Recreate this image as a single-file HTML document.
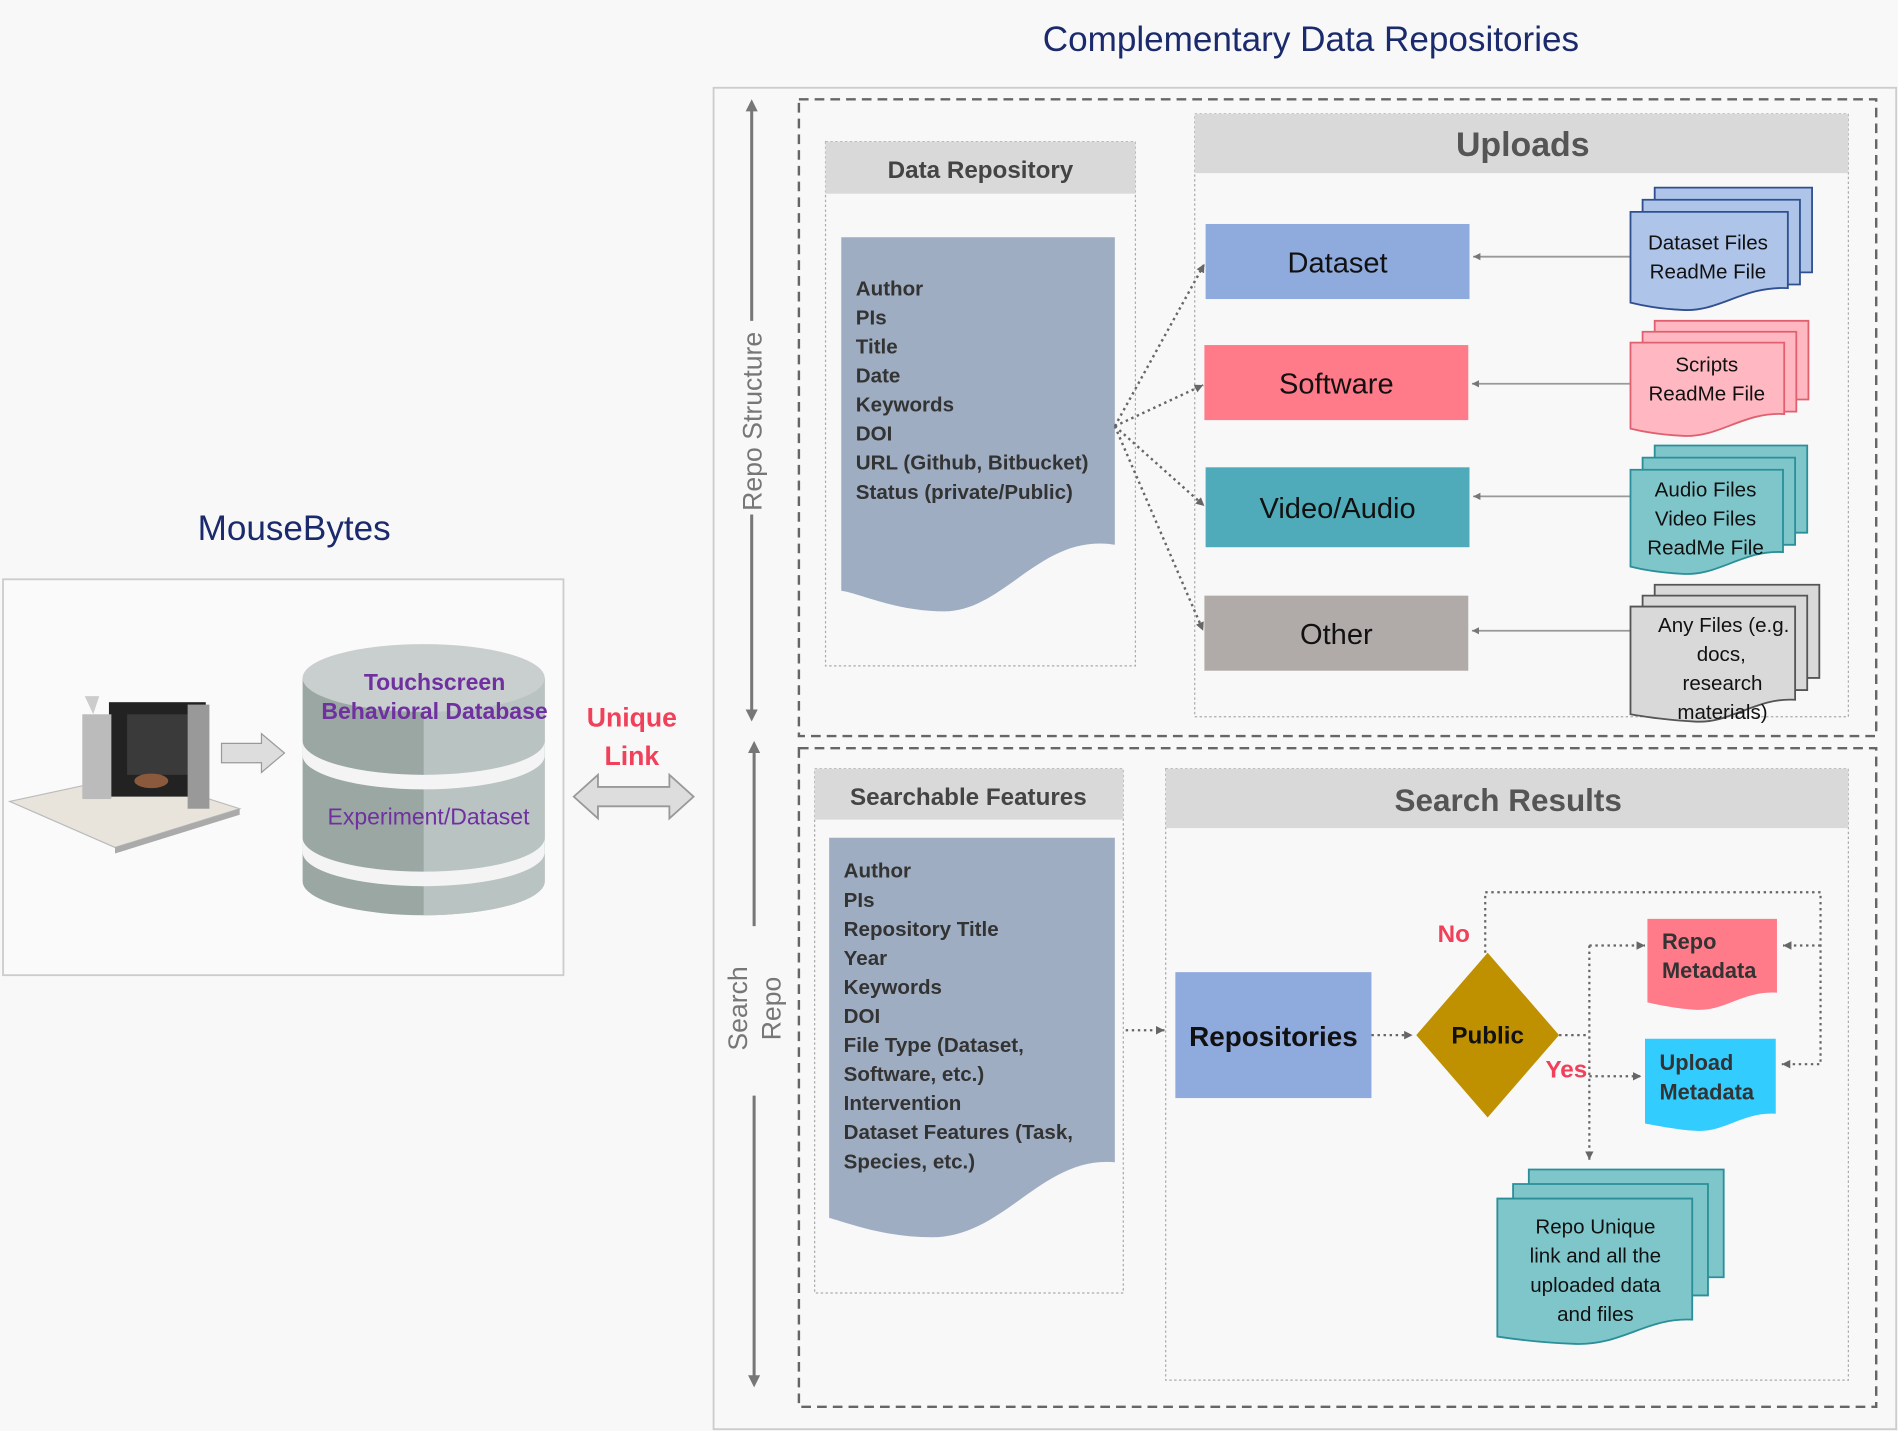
<!DOCTYPE html>
<html><head><meta charset="utf-8"><style>
html,body{margin:0;padding:0;background:#f8f8f8;}
svg{display:block;font-family:"Liberation Sans",sans-serif;}
</style></head><body>
<svg width="1898" height="1431" viewBox="0 0 1568 1182" preserveAspectRatio="none" xmlns="http://www.w3.org/2000/svg">
<defs>
<marker id="ag" markerUnits="userSpaceOnUse" markerWidth="10" markerHeight="10" refX="6" refY="3" orient="auto"><path d="M0,0 L6,3 L0,6 z" fill="#777"/></marker>
<marker id="ad" markerUnits="userSpaceOnUse" markerWidth="10" markerHeight="10" refX="7" refY="3.5" orient="auto"><path d="M0,0 L7,3.5 L0,7 z" fill="#666"/></marker>
</defs>
<rect width="1568" height="1182" fill="#f8f8f8"/>
<text x="1083" y="42" font-size="29" fill="#1a2a6c" text-anchor="middle">Complementary Data Repositories</text>
<rect x="589.5" y="72.5" width="977" height="1108" fill="none" stroke="#ccc" stroke-width="1.5"/>
<rect x="660" y="82" width="890" height="526" fill="none" stroke="#666" stroke-width="2" stroke-dasharray="8,5"/>
<rect x="660" y="618" width="890" height="544" fill="none" stroke="#666" stroke-width="2" stroke-dasharray="8,5"/>
<line x1="621" y1="90" x2="621" y2="265" stroke="#777" stroke-width="2.5"/>
<line x1="621" y1="425" x2="621" y2="588" stroke="#777" stroke-width="2.5"/>
<path d="M616,92 L621,82 L626,92z M616,586 L621,596 L626,586z" fill="#777"/>
<text transform="translate(629,348) rotate(-90)" font-size="22" fill="#777" text-anchor="middle">Repo Structure</text>
<line x1="623" y1="620" x2="623" y2="765" stroke="#777" stroke-width="2.5"/>
<line x1="623" y1="905" x2="623" y2="1138" stroke="#777" stroke-width="2.5"/>
<path d="M618,622 L623,612 L628,622z M618,1136 L623,1146 L628,1136z" fill="#777"/>
<text transform="translate(617,833) rotate(-90)" font-size="22" fill="#777" text-anchor="middle">Search</text>
<text transform="translate(645,833) rotate(-90)" font-size="22" fill="#777" text-anchor="middle">Repo</text>

<rect x="682" y="117" width="256" height="433" fill="none" stroke="#aaa" stroke-dasharray="2,2"/>
<rect x="682" y="117" width="256" height="43" fill="#d9d9d9"/>
<text x="810" y="147" font-size="20" font-weight="bold" fill="#444" text-anchor="middle">Data Repository</text>
<path d="M695,196 H921 V450 C860,440 830,505 780,505 C740,505 710,490 695,488 Z" fill="#9eadc2"/>
<g font-size="17" font-weight="bold" fill="#333">
<text x="707" y="244">Author</text><text x="707" y="268">PIs</text><text x="707" y="292">Title</text><text x="707" y="316">Date</text><text x="707" y="340">Keywords</text><text x="707" y="364">DOI</text><text x="707" y="388">URL (Github, Bitbucket)</text><text x="707" y="412">Status (private/Public)</text>
</g>

<rect x="987" y="94" width="540" height="498" fill="none" stroke="#aaa" stroke-dasharray="2,2"/>
<rect x="987" y="94" width="540" height="49" fill="#d9d9d9"/>
<text x="1258" y="129" font-size="28" font-weight="bold" fill="#555" text-anchor="middle">Uploads</text>
<g font-size="24" fill="#111" text-anchor="middle">
<rect x="996" y="185" width="218" height="62" fill="#8faadc"/><text x="1105" y="225">Dataset</text>
<rect x="995" y="285" width="218" height="62" fill="#ff7b8a"/><text x="1104" y="325">Software</text>
<rect x="996" y="386" width="218" height="66" fill="#4fabb9"/><text x="1105" y="428">Video/Audio</text>
<rect x="995" y="492" width="218" height="62" fill="#b0aaa8"/><text x="1104" y="532">Other</text>
</g>
<g stroke="#999" stroke-width="1.5" marker-end="url(#ag)">
<line x1="1347" y1="212" x2="1217" y2="212"/>
<line x1="1347" y1="317" x2="1216" y2="317"/>
<line x1="1347" y1="410" x2="1217" y2="410"/>
<line x1="1347" y1="521" x2="1216" y2="521"/>
</g>
<g stroke="#666" stroke-width="2" stroke-dasharray="2,3" fill="none" marker-end="url(#ad)">
<line x1="921" y1="352" x2="995" y2="218"/>
<line x1="921" y1="352" x2="994" y2="318"/>
<line x1="921" y1="352" x2="995" y2="418"/>
<line x1="921" y1="352" x2="994" y2="521"/>
</g>
<g stroke-width="1.5">
<g fill="#aec4e8" stroke="#2f4f8f">
<path d="M1367,155 H1497 V225 H1367 Z"/><path d="M1357,165 H1487 V235 H1357 Z"/>
<path d="M1347,175 H1477 V238 C1440,236 1420,258 1390,256 C1370,255 1355,252 1347,250 Z"/>
</g>
<g fill="#ffb8c2" stroke="#e06070">
<path d="M1367,265 H1494 V330 H1367 Z"/><path d="M1357,274 H1484 V340 H1357 Z"/>
<path d="M1347,283 H1474 V342 C1440,340 1420,362 1390,360 C1370,359 1355,356 1347,354 Z"/>
</g>
<g fill="#7fc6cb" stroke="#2a8f98">
<path d="M1367,368 H1493 V440 H1367 Z"/><path d="M1357,378 H1483 V450 H1357 Z"/>
<path d="M1347,388 H1473 V456 C1440,454 1420,476 1390,474 C1370,473 1355,470 1347,468 Z"/>
</g>
<g fill="#d9d9d9" stroke="#555">
<path d="M1367,483 H1503 V560 H1367 Z"/><path d="M1357,492 H1493 V570 H1357 Z"/>
<path d="M1347,501 H1483 V578 C1450,576 1430,598 1400,596 C1380,595 1358,592 1347,590 Z"/>
</g>
</g>
<g font-size="17" fill="#111" text-anchor="middle">
<text x="1411" y="206">Dataset Files</text><text x="1411" y="230">ReadMe File</text>
<text x="1410" y="307">Scripts</text><text x="1410" y="331">ReadMe File</text>
<text x="1409" y="410">Audio Files</text><text x="1409" y="434">Video Files</text><text x="1409" y="458">ReadMe File</text>
<text x="1424" y="522">Any Files (e.g.</text><text x="1422" y="546">docs,</text><text x="1423" y="570">research</text><text x="1423" y="594">materials)</text>
</g>

<rect x="673" y="635" width="255" height="433" fill="none" stroke="#aaa" stroke-dasharray="2,2"/>
<rect x="673" y="635" width="255" height="42" fill="#d9d9d9"/>
<text x="800" y="665" font-size="20" font-weight="bold" fill="#444" text-anchor="middle">Searchable Features</text>
<path d="M685,692 H921 V960 C860,955 830,1022 770,1022 C730,1022 700,1010 685,1006 Z" fill="#9eadc2"/>
<g font-size="17" font-weight="bold" fill="#333">
<text x="697" y="725">Author</text><text x="697" y="749">PIs</text><text x="697" y="773">Repository Title</text><text x="697" y="797">Year</text><text x="697" y="821">Keywords</text><text x="697" y="845">DOI</text><text x="697" y="869">File Type (Dataset,</text><text x="697" y="893">Software, etc.)</text><text x="697" y="917">Intervention</text><text x="697" y="941">Dataset Features (Task,</text><text x="697" y="965">Species, etc.)</text>
</g>

<rect x="963" y="635" width="564" height="505" fill="none" stroke="#aaa" stroke-dasharray="2,2"/>
<rect x="963" y="635" width="564" height="49" fill="#d9d9d9"/>
<text x="1246" y="670" font-size="26" font-weight="bold" fill="#555" text-anchor="middle">Search Results</text>
<rect x="971" y="803" width="162" height="104" fill="#8faadc"/>
<text x="1052" y="864" font-size="23" font-weight="bold" fill="#111" text-anchor="middle">Repositories</text>
<path d="M1229,787 L1288,855 L1229,923 L1170,855 Z" fill="#bf9000"/>
<text x="1229" y="862" font-size="20" font-weight="bold" fill="#111" text-anchor="middle">Public</text>
<text x="1201" y="778" font-size="20" font-weight="bold" fill="#f0405a" text-anchor="middle">No</text>
<text x="1294" y="890" font-size="20" font-weight="bold" fill="#f0405a" text-anchor="middle">Yes</text>
<path d="M1361,759 H1468 V820 C1440,818 1425,836 1400,834 C1385,833 1370,830 1361,828 Z" fill="#ff7b8a"/>
<path d="M1359,858 H1467 V920 C1440,918 1425,936 1400,934 C1385,933 1370,930 1359,928 Z" fill="#33ccff"/>
<g font-size="18" font-weight="bold" fill="#333">
<text x="1373" y="784">Repo</text><text x="1373" y="808">Metadata</text>
<text x="1371" y="884">Upload</text><text x="1371" y="908">Metadata</text>
</g>
<g stroke-width="1.5">
<g fill="#7fc6cb" stroke="#2a8f98">
<path d="M1263,966 H1424 V1055 H1263 Z"/><path d="M1250,978 H1411 V1070 H1250 Z"/>
<path d="M1237,990 H1398 V1090 C1360,1088 1340,1112 1300,1110 C1275,1109 1250,1106 1237,1104 Z"/>
</g></g>
<g font-size="17" fill="#111" text-anchor="middle">
<text x="1318" y="1019">Repo Unique</text><text x="1318" y="1043">link and all the</text><text x="1318" y="1067">uploaded data</text><text x="1318" y="1091">and files</text>
</g>
<g stroke="#666" stroke-width="1.8" stroke-dasharray="2,3" fill="none">
<line x1="930" y1="851" x2="962" y2="851" marker-end="url(#ad)"/>
<line x1="1133" y1="855" x2="1167" y2="855" marker-end="url(#ad)"/>
<polyline points="1227,787 1227,737 1504,737 1504,879 1472,879" marker-end="url(#ad)"/>
<line x1="1504" y1="781" x2="1473" y2="781" marker-end="url(#ad)"/>
<polyline points="1288,855 1313,855"/>
<line x1="1313" y1="781" x2="1313" y2="958" marker-end="url(#ad)"/>
<line x1="1313" y1="781" x2="1359" y2="781" marker-end="url(#ad)"/>
<line x1="1313" y1="889" x2="1356" y2="889" marker-end="url(#ad)"/>
</g>

<text x="243" y="446" font-size="29" fill="#1a2a6c" text-anchor="middle">MouseBytes</text>
<rect x="2.5" y="478.5" width="463" height="327" fill="#fafafa" stroke="#ccc" stroke-width="1.5"/>
<path d="M8,662 L110,640 L198,668 L95,700 Z" fill="#e8e4dc" stroke="#bbb"/>
<path d="M95,700 L198,668 L198,673 L95,705 Z" fill="#aaa"/>
<rect x="90" y="580" width="80" height="78" fill="#222"/>
<rect x="105" y="590" width="50" height="50" fill="#3a3a3a"/>
<rect x="68" y="590" width="24" height="70" fill="#bbb"/>
<rect x="155" y="582" width="18" height="86" fill="#999"/>
<path d="M70,575 L82,575 L77,590 Z" fill="#ccc"/>
<ellipse cx="125" cy="645" rx="14" ry="6" fill="#8b5a3c"/>
<path d="M183,614 H216 V606 L235,622 L216,638 V630 H183 Z" fill="#ddd" stroke="#999"/>
<g>
<path d="M250,560 V728 A100,28 0 0 0 450,728 V560 Z" fill="#9aa7a3"/>
<path d="M350,560 H450 V728 A100,28 0 0 1 350,756 Z" fill="#b9c3c2"/>
<path d="M250,612 A100,28 0 0 0 450,612 V624 A100,28 0 0 1 250,624 Z" fill="#f4f4f4"/>
<path d="M250,692 A100,28 0 0 0 450,692 V704 A100,28 0 0 1 250,704 Z" fill="#f4f4f4"/>
<ellipse cx="350" cy="560" rx="100" ry="28" fill="#c8cfce"/>
</g>
<text x="359" y="570" font-size="19" font-weight="bold" fill="#7030a0" text-anchor="middle">Touchscreen</text>
<text x="359" y="594" font-size="19" font-weight="bold" fill="#7030a0" text-anchor="middle">Behavioral Database</text>
<text x="354" y="681" font-size="19" fill="#7030a0" text-anchor="middle">Experiment/Dataset</text>
<text x="522" y="600" font-size="22" font-weight="bold" fill="#f0405a" text-anchor="middle">Unique</text>
<text x="522" y="632" font-size="22" font-weight="bold" fill="#f0405a" text-anchor="middle">Link</text>
<path d="M474,658 L494,640 V650 H553 V640 L573,658 L553,676 V666 H494 V676 Z" fill="#ddd" stroke="#999" stroke-width="1.5"/>
</svg>
</body></html>
